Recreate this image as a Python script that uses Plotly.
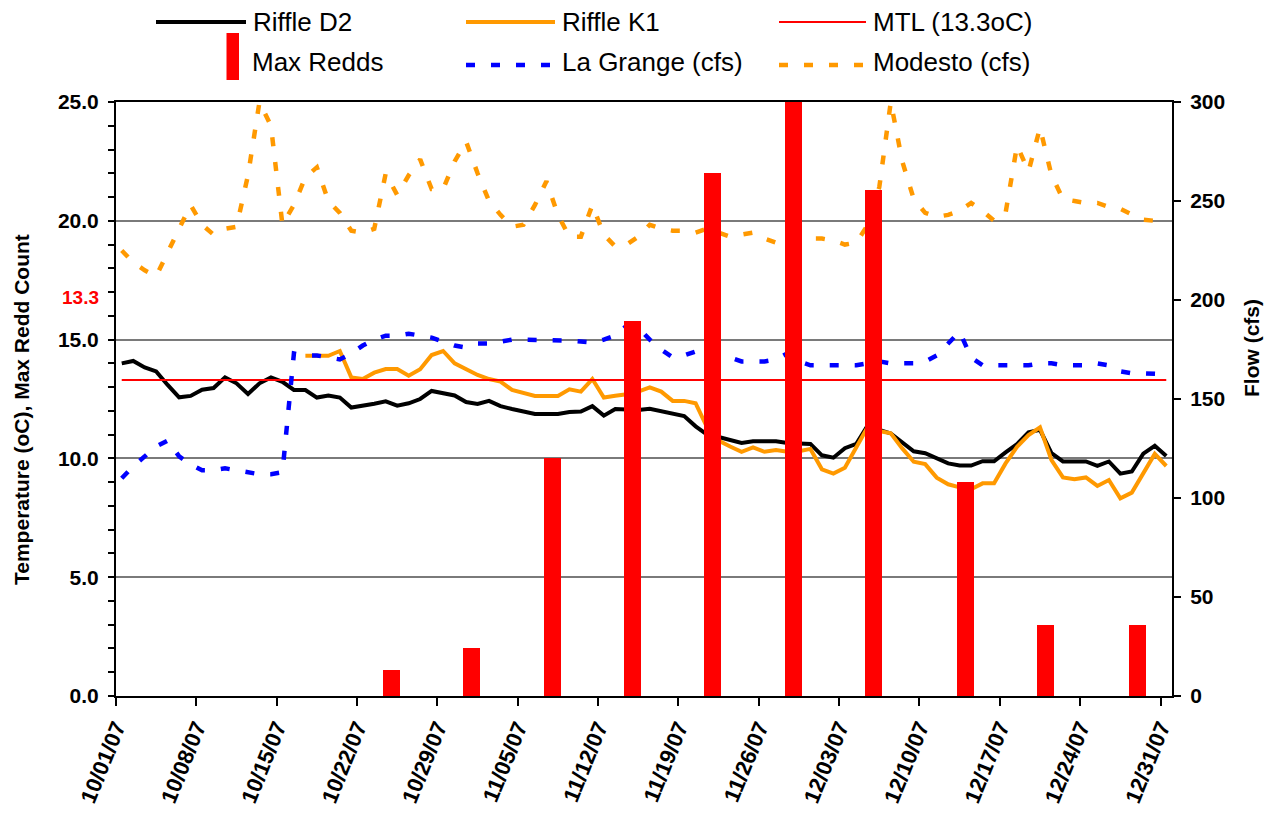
import pandas as pd
import plotly.graph_objects as go

# ---------------- data ----------------
first_day = "2007-10-01"
last_day = "2007-12-31"

riffle_d2 = [14.0, 14.1, 13.83, 13.66, 13.09, 12.57, 12.63, 12.89, 12.96, 13.41,
             13.16, 12.71, 13.16, 13.41, 13.22, 12.88, 12.88, 12.56, 12.65, 12.56,
             12.14, 12.2, 12.3, 12.4, 12.22, 12.32, 12.5, 12.84, 12.74, 12.65,
             12.37, 12.29, 12.42, 12.2, 12.08, 11.98, 11.87, 11.87, 11.87, 11.95,
             11.97, 12.2, 11.8, 12.08, 12.04, 12.04, 12.09, 11.98, 11.88, 11.78,
             11.35, 11.0, 10.9, 10.78, 10.65, 10.72, 10.72, 10.72, 10.65, 10.61,
             10.61, 10.13, 10.03, 10.43, 10.61, 11.4, 11.2, 11.05, 10.65, 10.3,
             10.22, 10.0, 9.79, 9.7, 9.7, 9.88, 9.88, 10.25, 10.6, 11.1,
             11.2, 10.22, 9.87, 9.87, 9.87, 9.69, 9.87, 9.36, 9.45, 10.2,
             10.53, 10.1]

riffle_k1 = [None, None, None, None, None, None, None, None, None, None,
             None, None, None, None, None, None, 14.32, 14.32, 14.32, 14.52,
             13.41, 13.34, 13.61, 13.76, 13.76, 13.48, 13.75, 14.35, 14.52, 14.0,
             13.75, 13.51, 13.34, 13.23, 12.88, 12.74, 12.63, 12.63, 12.63, 12.91,
             12.81, 13.34, 12.56, 12.64, 12.7, 12.81, 12.99, 12.81, 12.42, 12.42,
             12.32, 11.3, 10.75, 10.5, 10.28, 10.46, 10.28, 10.35, 10.28, 10.3,
             10.4, 9.54, 9.36, 9.61, 10.43, 11.33, 11.15, 11.06, 10.42, 9.86,
             9.76, 9.19, 8.91, 8.78, 8.7, 8.95, 8.95, 9.79, 10.49, 10.98,
             11.31, 9.93, 9.2, 9.12, 9.2, 8.84, 9.09, 8.32, 8.56, 9.37,
             10.19, 9.68]

la_grange_cfs = [110, 116, 121, 126, 129, 121, 117, 114, 114, 115,
                 114, 113, 112, 112, 113, 173, 172, 172, 171, 170,
                 173, 177, 180, 182, 182, 183, 182, 181, 179, 177,
                 176, 178, 178, 179, 180, 180, 180, 180, 180, 179.5,
                 179, 178.5, 180, 182, 187, 186, 180, 175, 171, 172,
                 174, 173, 172, 171, 169, 169, 169, 170, 173, 169,
                 167, 167, 167, 167, 167, 168, 169, 168, 168, 168,
                 169, 172, 178, 184, 171, 167, 167, 167, 167, 167,
                 168, 168, 167, 167, 167, 168, 167, 164, 163, 163,
                 162.5, 162.5]

modesto_cfs = [225, 219, 215, 212, 224, 236, 248, 238, 233, 236,
               237, 263, 300, 288, 238, 248, 262, 267, 250, 244,
               235, 234, 236, 264, 253, 263, 271, 256, 256, 270,
               280, 264, 250, 243, 237, 238, 248, 260, 243, 232,
               232, 248, 233, 227, 228, 232, 238, 236, 235, 235,
               234, 236, 234, 232, 233, 234, 231, 229, 229, 230,
               231, 231, 230, 228, 229, 238, 257, 300, 270, 251,
               244, 242, 243, 245, 249, 245, 240, 244, 278, 265,
               287, 263, 251, 250, 249, 249, 247, 246, 243, 240.5,
               240, 239]

mtl_temp = 13.3

redd_dates = ["2007-10-25", "2007-11-01", "2007-11-08", "2007-11-15", "2007-11-22",
              "2007-11-29", "2007-12-06", "2007-12-14", "2007-12-21", "2007-12-29"]
max_redds = [1.1, 2, 10, 15.8, 22, 27, 21.3, 9, 3, 3]

# ---------------- figure ----------------
FONT = "Liberation Sans, Arial, sans-serif"
ORANGE = "#FF9900"
DAY_MS = 86400000

days = pd.date_range(first_day, last_day, freq="D")
x_daily = days + pd.Timedelta(hours=12)   # daily values centred in their day
mtl_series = [mtl_temp] * len(days)

fig = go.Figure()
fig.add_trace(go.Scatter(x=x_daily, y=riffle_d2, mode="lines", name="Riffle D2",
                         line=dict(color="black", width=4), yaxis="y", showlegend=False))
fig.add_trace(go.Scatter(x=x_daily, y=riffle_k1, mode="lines", name="Riffle K1",
                         line=dict(color=ORANGE, width=4), yaxis="y", showlegend=False))
fig.add_trace(go.Scatter(x=x_daily, y=mtl_series, mode="lines", name="MTL (13.3oC)",
                         line=dict(color="#FF0000", width=2), yaxis="y", showlegend=False))
fig.add_trace(go.Scatter(x=x_daily, y=la_grange_cfs, mode="lines", name="La Grange (cfs)",
                         line=dict(color="#0000FF", width=4.5, dash="9px,16px"), yaxis="y2",
                         showlegend=False))
fig.add_trace(go.Scatter(x=x_daily, y=modesto_cfs, mode="lines", name="Modesto (cfs)",
                         line=dict(color=ORANGE, width=4.5, dash="9px,16px"), yaxis="y2",
                         showlegend=False))
fig.add_trace(go.Bar(x=pd.to_datetime(redd_dates), y=max_redds, name="Max Redds",
                     width=1.48 * DAY_MS, marker=dict(color="#FF0000", line=dict(width=0)),
                     yaxis="y3", showlegend=False))

# The page body adds an 8px offset, so the figure is 8px smaller and margins shifted.
fig.update_layout(
    width=1271, height=812,
    margin=dict(l=108, r=107, t=94, b=124, autoexpand=False),
    paper_bgcolor="white", plot_bgcolor="white",
    font=dict(family=FONT, color="black"),
    bargap=0,
    xaxis=dict(
        type="date", range=["2007-10-01", "2008-01-01"],
        tick0="2007-10-01", dtick=7 * DAY_MS, tickformat="%m/%d/%y",
        tickangle=-68, ticks="outside", ticklen=8, tickwidth=1.5, tickcolor="black",
        showline=True, linecolor="black", linewidth=2, mirror=True,
        showgrid=False, zeroline=False, automargin=False,
        tickfont=dict(family=FONT, size=22, color="black", weight="bold"),
    ),
    yaxis=dict(
        range=[0, 25], dtick=5, tickformat=".1f", autorange=False,
        showgrid=True, gridcolor="#7a7a7a", gridwidth=1.5,
        ticks="outside", ticklen=6, tickwidth=1.5, tickcolor="black",
        minor=dict(dtick=1, ticks="outside", ticklen=6, tickwidth=1.5,
                   tickcolor="black", showgrid=False),
        showline=True, linecolor="black", linewidth=2, zeroline=False, automargin=False,
        tickfont=dict(family=FONT, size=21, color="black", weight="bold"),
        ticklabelstandoff=5,
    ),
    yaxis2=dict(
        overlaying="y", side="right", range=[0, 300], dtick=50, autorange=False,
        showgrid=False, zeroline=False, automargin=False,
        ticks="outside", ticklen=7, tickwidth=1.5, tickcolor="black",
        showline=True, linecolor="black", linewidth=2,
        tickfont=dict(family=FONT, size=21, color="black", weight="bold"),
        ticklabelstandoff=5,
    ),
    yaxis3=dict(overlaying="y", range=[0, 25], autorange=False, visible=False),
)

# ---------------- axis titles & label ----------------
def px_x(px):
    return (px - 116) / 1056.0

def px_y(py):
    return (696 - py) / 594.0

title_font = dict(family=FONT, size=21, color="black", weight="bold")
fig.add_annotation(text="Temperature (oC), Max Redd Count", xref="paper", yref="paper",
                   x=px_x(21), y=px_y(410), textangle=-90, showarrow=False, font=title_font,
                   xanchor="center", yanchor="middle", borderpad=0)
fig.add_annotation(text="Flow (cfs)", xref="paper", yref="paper",
                   x=px_x(1251), y=px_y(348), textangle=-90, showarrow=False, font=title_font,
                   xanchor="center", yanchor="middle", borderpad=0)
fig.add_annotation(text="13.3", xref="paper", yref="paper", x=px_x(80), y=px_y(297),
                   showarrow=False, xanchor="center", yanchor="middle",
                   font=dict(family=FONT, size=19, color="#FF0000", weight="bold"))

# ---------------- legend (drawn) ----------------
leg_font = dict(family=FONT, size=26, color="black")
legend_items = [
    ("Riffle D2", 156, 246, 22, 22, dict(color="black", width=4)),
    ("Riffle K1", 466, 555, 22, 22, dict(color=ORANGE, width=4)),
    ("MTL (13.3oC)", 779, 866, 22, 22, dict(color="#FF0000", width=2)),
    ("La Grange (cfs)", 466, 555, 65, 62, dict(color="#0000FF", width=4.5, dash="9px,16px")),
    ("Modesto (cfs)", 779, 866, 65, 62, dict(color=ORANGE, width=4.5, dash="9px,16px")),
]
for label, x0, x1, yline, ytext, ln in legend_items:
    fig.add_shape(type="line", xref="paper", yref="paper",
                  x0=px_x(x0), x1=px_x(x1), y0=px_y(yline), y1=px_y(yline), line=ln)
    fig.add_annotation(text=label, xref="paper", yref="paper", x=px_x(x1 + 5),
                       y=px_y(ytext), xanchor="left", yanchor="middle",
                       showarrow=False, font=leg_font)
fig.add_shape(type="rect", xref="paper", yref="paper",
              x0=px_x(226.5), x1=px_x(239), y0=px_y(80), y1=px_y(33),
              fillcolor="#FF0000", line=dict(width=0))
fig.add_annotation(text="Max Redds", xref="paper", yref="paper", x=px_x(250),
                   y=px_y(62), xanchor="left", yanchor="middle", showarrow=False,
                   font=leg_font)

fig.write_html("out.html")
